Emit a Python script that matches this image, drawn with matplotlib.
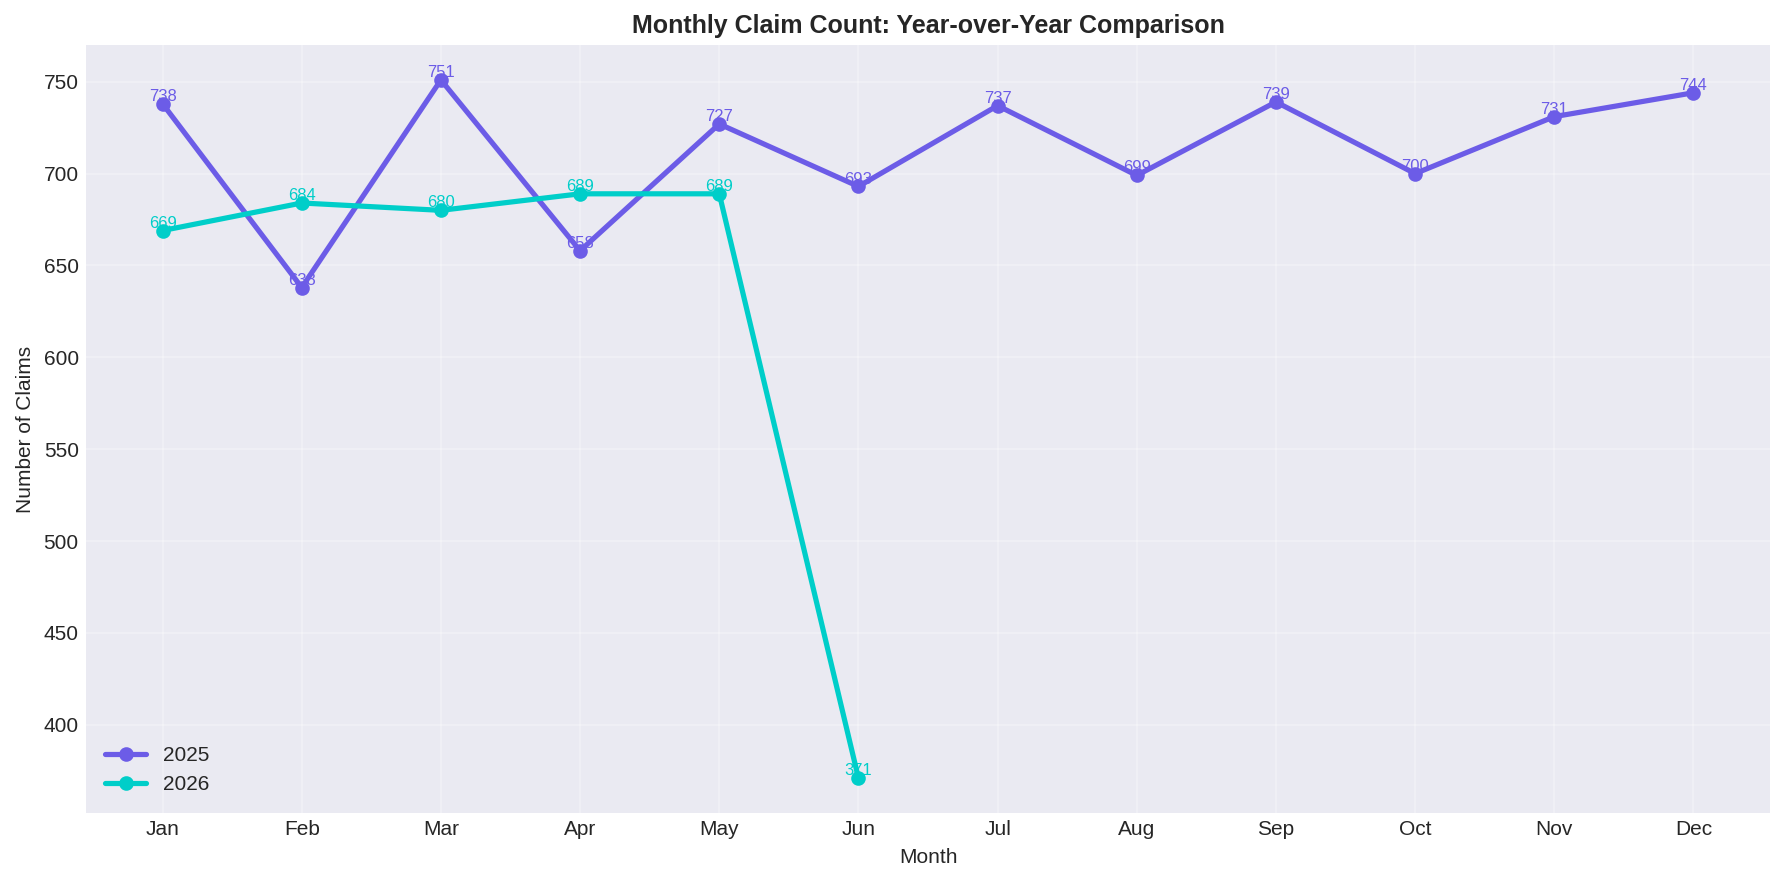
import matplotlib
matplotlib.use("Agg")
import matplotlib.pyplot as plt

# data
MONTHS = ["Jan", "Feb", "Mar", "Apr", "May", "Jun",
          "Jul", "Aug", "Sep", "Oct", "Nov", "Dec"]
CLAIMS_2025 = [738, 638, 751, 658, 727, 693, 737, 699, 739, 700, 731, 744]
CLAIMS_2026 = [669, 684, 680, 689, 689, 371]

COLOR_2025 = "#6C5CE7"
COLOR_2026 = "#00CEC9"

plt.style.use("seaborn-v0_8-darkgrid")
plt.rcParams["font.family"] = ["Liberation Sans", "DejaVu Sans"]

fig, ax = plt.subplots(figsize=(11.9, 5.887), dpi=150)
fig.subplots_adjust(left=0.0482, right=0.9916, top=0.949, bottom=0.0793)

x25 = list(range(len(CLAIMS_2025)))
x26 = list(range(len(CLAIMS_2026)))

ax.plot(x25, CLAIMS_2025, marker="o", linewidth=2.5, markersize=6,
        color=COLOR_2025, label="2025")
ax.plot(x26, CLAIMS_2026, marker="o", linewidth=2.5, markersize=6,
        color=COLOR_2026, label="2026")

# value labels on each point
for xs, ys, c in [(x25, CLAIMS_2025, COLOR_2025), (x26, CLAIMS_2026, COLOR_2026)]:
    for xi, yi in zip(xs, ys):
        ax.text(xi, yi, str(yi), ha="center", va="bottom", fontsize=8, color=c)

ax.set_xticks(x25)
ax.set_xticklabels(MONTHS)
ax.set_xlabel("Month", fontsize=10)
ax.set_ylabel("Number of Claims", fontsize=10)
ax.set_title("Monthly Claim Count: Year-over-Year Comparison",
             fontsize=12, fontweight="bold")
ax.grid(True, alpha=0.3)
ax.legend(loc="lower left", fontsize=10)

fig.savefig("out.png", dpi=150)
